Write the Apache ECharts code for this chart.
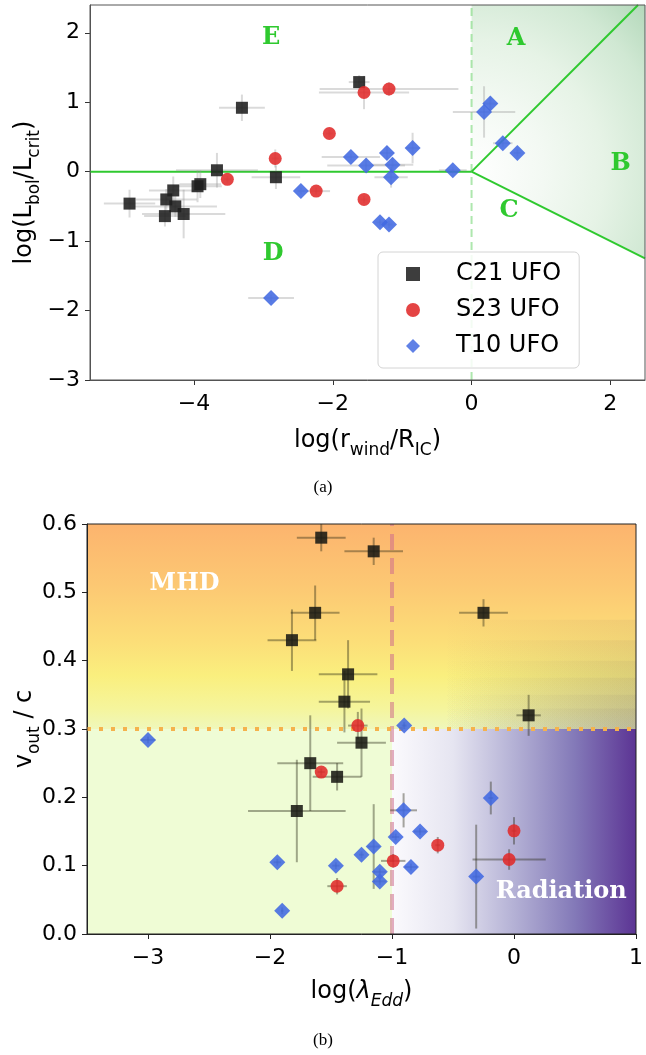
<!DOCTYPE html>
<html><head><meta charset="utf-8">
<script src="https://cdn.jsdelivr.net/npm/echarts@6/dist/echarts.min.js"></script>
<style>html,body{margin:0;padding:0;background:#fff}#c{width:646px;height:1055px}</style>
</head><body><div id="c"></div>
<script>
// ===== Panel (a): [log(r_wind/R_IC), log(L_bol/L_crit), xerr, yerr]
const c21A = [
  [-1.62, 1.29, 0.15, 0.10],
  [-3.31, 0.92, 0.33, 0.19],
  [-3.67, 0.02, 0.59, 0.25],
  [-2.82, -0.08, 0.35, 0.17],
  [-4.93, -0.46, 0.37, 0.20],
  [-4.30, -0.27, 0.35, 0.20],
  [-4.40, -0.40, 0.44, 0.15],
  [-4.27, -0.50, 0.60, 0.15],
  [-4.42, -0.64, 0.30, 0.15],
  [-4.15, -0.61, 0.60, 0.35],
  [-3.95, -0.21, 0.35, 0.23],
  [-3.91, -0.18, 0.30, 0.20]
];
const s23A = [
  [-1.55, 1.14, 0.65, 0.24],
  [-1.19, 1.19, 1.00, 0.10],
  [-2.05, 0.55, 0.05, 0.05],
  [-2.83, 0.19, 0.05, 0.13],
  [-3.52, -0.11, 0.05, 0.05],
  [-2.24, -0.28, 0.20, 0.05],
  [-1.55, -0.40, 0.05, 0.05]
];
const t10A = [
  [0.27, 0.98, 0.10, 0.10],
  [0.18, 0.86, 0.45, 0.37],
  [-0.85, 0.34, 0.10, 0.22],
  [-1.22, 0.27, 0.10, 0.10],
  [-1.74, 0.21, 0.42, 0.05],
  [-1.52, 0.09, 0.56, 0.10],
  [-1.14, 0.10, 0.30, 0.10],
  [-1.16, -0.08, 0.24, 0.15],
  [-0.27, 0.02, 0.20, 0.05],
  [0.45, 0.41, 0.14, 0.05],
  [0.66, 0.27, 0.05, 0.05],
  [-2.46, -0.28, 0.05, 0.05],
  [-1.32, -0.73, 0.05, 0.05],
  [-1.19, -0.76, 0.05, 0.05],
  [-2.89, -1.82, 0.33, 0.05]
];
const regionLabelsA = [[-2.89, 1.93, 'E'], [0.64, 1.92, 'A'], [2.15, 0.12, 'B'], [0.54, -0.57, 'C'], [-2.86, -1.18, 'D']];
const xTicksA = [-4, -2, 0, 2];
const yTicksA = [-3, -2, -1, 0, 1, 2];
const xRangeA = [-5.5, 2.5];
const yRangeA = [-3, 2.4];
const upperSlopeA = 1.0;   // boundary A/B : y = x
const lowerSlopeA = -0.5;  // boundary B/C : y = -x/2

// ===== Panel (b): [log(lambda_Edd), v_out/c, xerr, yerr]
const c21B = [
  [-1.58, 0.58, 0.20, 0.02],
  [-1.15, 0.56, 0.24, 0.02],
  [-1.63, 0.47, 0.20, 0.04],
  [-0.25, 0.47, 0.20, 0.02],
  [-1.82, 0.43, 0.20, 0.045],
  [-1.36, 0.38, 0.24, 0.05],
  [-1.39, 0.34, 0.21, 0.045],
  [0.12, 0.32, 0.10, 0.03],
  [-1.25, 0.28, 0.20, 0.05],
  [-1.67, 0.25, 0.27, 0.07],
  [-1.45, 0.23, 0.20, 0.02],
  [-1.78, 0.18, 0.40, 0.075]
];
const s23B = [
  [-1.28, 0.305, 0.08, 0.02],
  [-1.58, 0.237, 0.03, 0.005],
  [-1.45, 0.07, 0.08, 0.012],
  [0.0, 0.151, 0.02, 0.02],
  [-0.625, 0.13, 0.02, 0.012],
  [-0.99, 0.107, 0.10, 0.01],
  [-0.04, 0.109, 0.30, 0.015]
];
const t10B = [
  [-3.0, 0.284, 0.06, 0.005],
  [-0.90, 0.305, 0.02, 0.005],
  [-0.19, 0.199, 0.02, 0.024],
  [-0.905, 0.181, 0.11, 0.025],
  [-0.77, 0.150, 0.05, 0.005],
  [-0.97, 0.142, 0.03, 0.005],
  [-1.15, 0.128, 0.05, 0.062],
  [-1.25, 0.116, 0.02, 0.005],
  [-0.845, 0.098, 0.05, 0.005],
  [-1.10, 0.091, 0.05, 0.005],
  [-1.10, 0.077, 0.05, 0.005],
  [-0.31, 0.084, 0.03, 0.076],
  [-1.94, 0.105, 0.03, 0.005],
  [-1.46, 0.10, 0.03, 0.005],
  [-1.90, 0.034, 0.01, 0.005]
];
const regionLabelsB = [[-2.70, 0.512, 'MHD'], [0.387, 0.0615, 'Radiation']];
const xTicksB = [-3, -2, -1, 0, 1];
const xRangeB = [-3.5, 1];
const yRangeB = [0, 0.6];
const lambdaSplit = -1;
const vSplit = 0.3;

const FONT = 'DejaVu Sans';
const minus = v => String(v).replace('-', '\u2212');

function errSeries(data, gi, color, width) {
  return {
    type: 'custom', xAxisIndex: gi, yAxisIndex: gi, z: 3, silent: true,
    encode: { x: 0, y: 1 }, data: data,
    renderItem: function (params, api) {
      const x = api.value(0), y = api.value(1), xe = api.value(2), ye = api.value(3);
      const l = api.coord([x - xe, y]), r = api.coord([x + xe, y]);
      const t = api.coord([x, y + ye]), b = api.coord([x, y - ye]);
      const st = { stroke: color, lineWidth: width };
      return { type: 'group', children: [
        { type: 'line', shape: { x1: l[0], y1: l[1], x2: r[0], y2: r[1] }, style: st },
        { type: 'line', shape: { x1: t[0], y1: t[1], x2: b[0], y2: b[1] }, style: st }
      ]};
    }
  };
}
function scat(name, data, gi, symbol, size, color) {
  return { name: name, type: 'scatter', xAxisIndex: gi, yAxisIndex: gi, z: 5,
    data: data.map(d => [d[0], d[1]]), symbol: symbol, symbolSize: size,
    itemStyle: { color: color, opacity: 0.88 }, emphasis: { disabled: true } };
}
function labelSeries(data, gi, font, color) {
  return { type: 'custom', xAxisIndex: gi, yAxisIndex: gi, z: 6, silent: true,
    encode: { x: 0, y: 1 }, data: data,
    renderItem: function (params, api) {
      const p = api.coord([api.value(0), api.value(1)]);
      return { type: 'text', x: p[0], y: p[1],
        style: { text: data[params.dataIndex][2], font: font, fill: color, align: 'center', verticalAlign: 'middle' } };
    } };
}

const green = '#2fc92f';
const tickLabel = { fontFamily: FONT, fontSize: 22, color: '#000', margin: 13 };
const richName = {
  n: { fontFamily: FONT, fontSize: 24, color: '#000', lineHeight: 30, verticalAlign: 'middle' },
  i: { fontFamily: FONT, fontSize: 24, fontStyle: 'italic', color: '#000', lineHeight: 30, verticalAlign: 'middle' },
  s: { fontFamily: FONT, fontSize: 17, color: '#000', lineHeight: 36, verticalAlign: 'bottom' },
  si: { fontFamily: FONT, fontSize: 17, fontStyle: 'italic', color: '#000', lineHeight: 36, verticalAlign: 'bottom' }
};

const option = {
  animation: false,
  backgroundColor: '#fff',
  grid: [
    { left: 90, top: 5, width: 555, height: 375, show: true, borderColor: '#555', borderWidth: 1, z: 10, backgroundColor: 'rgba(0,0,0,0)' },
    { left: 87, top: 524, width: 550, height: 410, show: true, borderColor: '#222', borderWidth: 1, z: 10, backgroundColor: 'rgba(0,0,0,0)' }
  ],
  xAxis: [
    { type: 'value', gridIndex: 0, min: xRangeA[0], max: xRangeA[1],
      axisLine: { onZero: false, lineStyle: { color: '#555' } }, splitLine: { show: false },
      axisTick: { customValues: xTicksA, length: 5, lineStyle: { color: '#333' } },
      axisLabel: Object.assign({ customValues: xTicksA, formatter: minus }, tickLabel),
      nameLocation: 'middle', nameGap: 43,
      name: '{n|log(r}{s|wind}{n|/R}{s|IC}{n|)}',
      nameTextStyle: { rich: richName } },
    { type: 'value', gridIndex: 1, min: xRangeB[0], max: xRangeB[1],
      axisLine: { onZero: false, lineStyle: { color: '#222' } }, splitLine: { show: false },
      axisTick: { customValues: xTicksB, length: 5, lineStyle: { color: '#222' } },
      axisLabel: Object.assign({ customValues: xTicksB, formatter: minus }, tickLabel),
      nameLocation: 'middle', nameGap: 40,
      name: '{n|log(}{i|λ}{si|Edd}{n|)}',
      nameTextStyle: { rich: richName } }
  ],
  yAxis: [
    { type: 'value', gridIndex: 0, min: yRangeA[0], max: yRangeA[1],
      axisLine: { show: true, onZero: false, lineStyle: { color: '#555' } }, splitLine: { show: false },
      axisTick: { show: true, customValues: yTicksA, length: 5, lineStyle: { color: '#333' } },
      axisLabel: Object.assign({ customValues: yTicksA, formatter: minus }, tickLabel, { margin: 10 }),
      nameLocation: 'middle', nameGap: 47, nameRotate: 90, nameMoveOverlap: false,
      name: '{n|log(L}{s|bol}{n|/L}{s|crit}{n|)}',
      nameTextStyle: { rich: richName } },
    { type: 'value', gridIndex: 1, min: yRangeB[0], max: yRangeB[1], interval: 0.1,
      axisLine: { show: true, onZero: false, lineStyle: { color: '#222' } }, splitLine: { show: false },
      axisTick: { show: true, length: 5, lineStyle: { color: '#222' } },
      axisLabel: Object.assign({ formatter: v => v.toFixed(1) }, tickLabel, { margin: 10 }),
      nameLocation: 'middle', nameGap: 44, nameRotate: 90, nameMoveOverlap: false,
      name: '{n|v}{s|out}{n| / c}',
      nameTextStyle: { rich: richName } }
  ],
  legend: {
    left: 378, top: 252, orient: 'vertical', itemWidth: 14, itemHeight: 14, itemGap: 12,
    backgroundColor: 'rgba(255,255,255,0.85)', borderColor: '#d4d4d4', borderWidth: 1, borderRadius: 5,
    padding: [10, 18, 10, 28], selectedMode: false,
    formatter: n => '{t|' + n + '}',
    textStyle: { rich: { t: { fontFamily: FONT, fontSize: 24, color: '#000', padding: [0, 0, 0, 31] } } },
    data: [
      { name: 'C21 UFO', icon: 'rect', itemStyle: { color: '#222' } },
      { name: 'S23 UFO', icon: 'circle', itemStyle: { color: '#e02a2a' } },
      { name: 'T10 UFO', icon: 'diamond', itemStyle: { color: '#4a6fe3' } }
    ]
  },
  graphic: [
    { type: 'text', left: 'center', top: 479, style: { text: '(a)', font: '17px "Liberation Serif"', fill: '#000' } },
    { type: 'text', left: 'center', top: 1032, style: { text: '(b)', font: '17px "Liberation Serif"', fill: '#000' } }
  ],
  series: [
    // --- panel (a) shading
    { type: 'custom', xAxisIndex: 0, yAxisIndex: 0, z: 0, silent: true, data: [[0, 0]],
      renderItem: function (params, api) {
        const o = api.coord([0, 0]);
        const p1 = api.coord([0, yRangeA[1]]);
        const p2 = api.coord([xRangeA[1], yRangeA[1]]);
        const p3 = api.coord([xRangeA[1], lowerSlopeA * xRangeA[1]]);
        const r = Math.hypot(p2[0] - o[0], p2[1] - o[1]);
        const grad = new echarts.graphic.RadialGradient(o[0], o[1], r, [
          { offset: 0, color: '#ffffff' }, { offset: 0.3, color: '#f3f9f3' }, { offset: 0.55, color: '#e6f3e6' },
          { offset: 0.8, color: '#d0e8d3' }, { offset: 1, color: '#b3d8ba' }], true);
        return { type: 'polygon', shape: { points: [o, p1, p2, p3] }, style: { fill: grad } };
      } },
    // boundaries
    { type: 'line', xAxisIndex: 0, yAxisIndex: 0, z: 2, silent: true, symbol: 'none',
      data: [[xRangeA[0], 0], [0, 0]], lineStyle: { color: green, width: 2 } },
    { type: 'line', xAxisIndex: 0, yAxisIndex: 0, z: 2, silent: true, symbol: 'none',
      data: [[0, 0], [yRangeA[1] / upperSlopeA, yRangeA[1]]], lineStyle: { color: green, width: 2 } },
    { type: 'line', xAxisIndex: 0, yAxisIndex: 0, z: 2, silent: true, symbol: 'none',
      data: [[0, 0], [xRangeA[1], lowerSlopeA * xRangeA[1]]], lineStyle: { color: green, width: 2 } },
    { type: 'line', xAxisIndex: 0, yAxisIndex: 0, z: 1, silent: true, symbol: 'none',
      data: [[0, yRangeA[0]], [0, yRangeA[1]]], lineStyle: { color: 'rgba(120,215,120,0.6)', width: 2, type: [8, 5] } },
    errSeries(c21A, 0, 'rgba(150,150,150,0.35)', 2),
    errSeries(s23A, 0, 'rgba(150,150,150,0.35)', 2),
    errSeries(t10A, 0, 'rgba(150,150,150,0.35)', 2),
    scat('C21 UFO', c21A, 0, 'rect', 12, '#1e1e1e'),
    scat('S23 UFO', s23A, 0, 'circle', 13, '#e02a2a'),
    scat('T10 UFO', t10A, 0, 'diamond', 16, '#4169e1'),
    labelSeries(regionLabelsA, 0, 'bold 24px "DejaVu Serif"', green),

    // --- panel (b) background
    { type: 'custom', xAxisIndex: 1, yAxisIndex: 1, z: 0, silent: true, data: [[0, 0]],
      renderItem: function (params, api) {
        const tl = api.coord([xRangeB[0], yRangeB[1]]);
        const br = api.coord([xRangeB[1], yRangeB[0]]);
        const mid = api.coord([lambdaSplit, vSplit]);
        const kids = [];
        kids.push({ type: 'rect', shape: { x: tl[0], y: tl[1], width: br[0] - tl[0], height: mid[1] - tl[1] },
          style: { fill: new echarts.graphic.LinearGradient(0, 0, 0, 1, [
            { offset: 0, color: '#fcb46e' }, { offset: 0.3, color: '#fcc873' }, { offset: 0.57, color: '#fcde78' },
            { offset: 0.74, color: '#faef7e' }, { offset: 0.9, color: '#f5f59c' }, { offset: 1, color: '#eff7bb' }]) } });
        kids.push({ type: 'rect', shape: { x: tl[0], y: mid[1], width: mid[0] - tl[0], height: br[1] - mid[1] },
          style: { fill: '#effcd5' } });
        kids.push({ type: 'rect', shape: { x: mid[0], y: mid[1], width: br[0] - mid[0], height: br[1] - mid[1] },
          style: { fill: new echarts.graphic.LinearGradient(0, 0, 1, 0, [
            { offset: 0, color: '#fbfafd' }, { offset: 0.25, color: '#e6e5f1' }, { offset: 0.5, color: '#b4b1d5' },
            { offset: 0.75, color: '#8379b8' }, { offset: 1, color: '#5c3494' }]) } });
        const bands = [0.46, 0.43, 0.40, 0.375, 0.35, 0.33];
        bands.forEach(function (b) {
          const p = api.coord([-0.6, b]);
          kids.push({ type: 'rect', shape: { x: p[0], y: p[1], width: br[0] - p[0], height: mid[1] - p[1] },
            style: { fill: new echarts.graphic.LinearGradient(0, 0, 1, 0, [
              { offset: 0, color: 'rgba(90,70,90,0)' }, { offset: 1, color: 'rgba(90,70,90,0.065)' }]) } });
        });
        return { type: 'group', children: kids };
      } },
    { type: 'line', xAxisIndex: 1, yAxisIndex: 1, z: 1, silent: true, symbol: 'none',
      data: [[lambdaSplit, yRangeB[0]], [lambdaSplit, yRangeB[1]]], lineStyle: { color: 'rgba(205,110,140,0.55)', width: 4, type: [16, 8] } },
    { type: 'line', xAxisIndex: 1, yAxisIndex: 1, z: 1, silent: true, symbol: 'none',
      data: [[xRangeB[0], vSplit], [xRangeB[1], vSplit]], lineStyle: { color: '#f5b24c', width: 4, type: [4, 8] } },
    errSeries(c21B, 1, 'rgba(40,40,20,0.4)', 2),
    errSeries(s23B, 1, 'rgba(40,40,20,0.4)', 2),
    errSeries(t10B, 1, 'rgba(40,40,20,0.4)', 2),
    scat('C21 UFO', c21B, 1, 'rect', 12, '#1a1a14'),
    scat('S23 UFO', s23B, 1, 'circle', 13, '#e02a2a'),
    scat('T10 UFO', t10B, 1, 'diamond', 16, '#4169e1'),
    labelSeries(regionLabelsB, 1, 'bold 24px "DejaVu Serif"', '#ffffff')
  ]
};
const chart = echarts.init(document.getElementById('c'));
chart.setOption(option);
</script>
</body></html>
